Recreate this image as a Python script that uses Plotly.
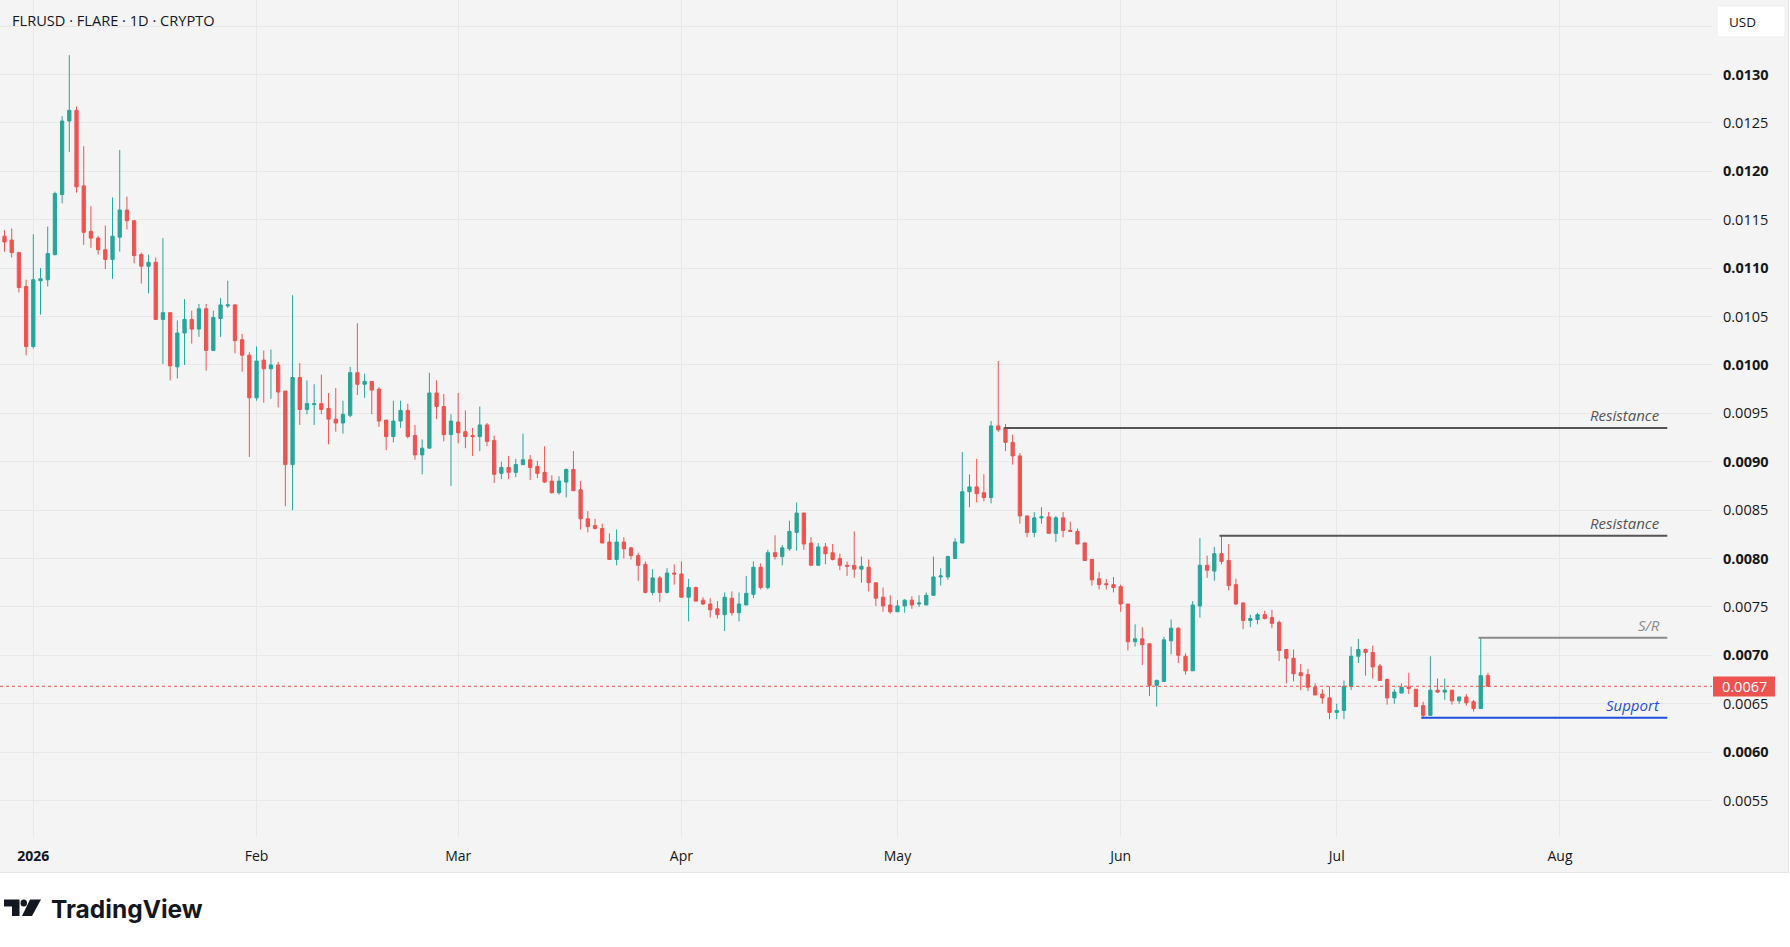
import plotly.graph_objects as go
import pandas as pd

# ---------------- data ----------------
start_date = "2025-12-28"

opens = [
    0.01133, 0.01129, 0.01116, 0.01081,
    0.01019, 0.01087, 0.01088, 0.01114, 0.01176, 0.01252, 0.01263, 0.01185, 0.01138, 0.01131,
    0.01119, 0.01109, 0.01132, 0.01160, 0.01149, 0.01114, 0.01102, 0.01106, 0.01047, 0.01054,
    0.00998, 0.01033, 0.01047, 0.01037, 0.01058, 0.01015, 0.01048, 0.01061, 0.01062, 0.01026, 0.01010,
    0.00966, 0.01005, 0.00996, 0.01000, 0.00973, 0.00897, 0.00987, 0.00954, 0.00959, 0.00960,
    0.00955, 0.00944, 0.00940, 0.00948, 0.00992, 0.00980, 0.00983, 0.00975, 0.00943, 0.00926,
    0.00942, 0.00953, 0.00927, 0.00907, 0.00914, 0.00971, 0.00957, 0.00928,
    0.00941, 0.00931, 0.00927, 0.00926, 0.00938, 0.00922, 0.00888, 0.00894, 0.00889, 0.00897,
    0.00902, 0.00895, 0.00889, 0.00880, 0.00868, 0.00879, 0.00892, 0.00871, 0.00841, 0.00834,
    0.00831, 0.00817, 0.00799, 0.00817, 0.00811, 0.00803, 0.00794, 0.00765, 0.00780, 0.00765, 0.00785,
    0.00784, 0.00760, 0.00770, 0.00757, 0.00753, 0.00748, 0.00742, 0.00759, 0.00744, 0.00752,
    0.00763, 0.00791, 0.00770, 0.00806, 0.00802, 0.00810, 0.00827, 0.00847, 0.00816, 0.00793,
    0.00812, 0.00806, 0.00800, 0.00793, 0.00793, 0.00789, 0.00791, 0.00775, 0.00760, 0.00752,
    0.00745, 0.00751, 0.00757, 0.00753, 0.00752, 0.00762, 0.00781, 0.00781, 0.00800, 0.00816,
    0.00869, 0.00874, 0.00868, 0.00863, 0.00937, 0.00935, 0.00920, 0.00906, 0.00844, 0.00827,
    0.00842, 0.00843, 0.00826, 0.00842, 0.00829, 0.00828, 0.00816, 0.00799, 0.00779, 0.00774, 0.00773,
    0.00771, 0.00753, 0.00714, 0.00717, 0.00712, 0.00669, 0.00673, 0.00715, 0.00728, 0.00699,
    0.00684, 0.00751, 0.00793, 0.00787, 0.00805, 0.00798, 0.00773, 0.00754, 0.00736, 0.00737,
    0.00742, 0.00739, 0.00734, 0.00706, 0.00697, 0.00682, 0.00680, 0.00667, 0.00660, 0.00656,
    0.00641, 0.00643, 0.00668, 0.00699, 0.00706, 0.00703, 0.00689, 0.00675, 0.00656, 0.00661,
    0.00667, 0.00665, 0.00648, 0.00638, 0.00664, 0.00662, 0.00664, 0.00653, 0.00657, 0.00652,
    0.00645, 0.00679,
]

highs = [
    0.01139, 0.01141, 0.01117, 0.01088,
    0.01135, 0.01100, 0.01143, 0.01179, 0.01257, 0.01320, 0.01267, 0.01226, 0.01164, 0.01133,
    0.01144, 0.01173, 0.01222, 0.01174, 0.01149, 0.01116, 0.01114, 0.01111, 0.01131, 0.01054,
    0.01046, 0.01068, 0.01056, 0.01063, 0.01063, 0.01056, 0.01069, 0.01087, 0.01063, 0.01032, 0.01013,
    0.01019, 0.01015, 0.01016, 0.01003, 0.00973, 0.01072, 0.01002, 0.00984, 0.00980, 0.00990,
    0.00971, 0.00976, 0.00963, 0.00998, 0.01043, 0.00991, 0.00983, 0.00977, 0.00943, 0.00963,
    0.00963, 0.00960, 0.00938, 0.00923, 0.00992, 0.00984, 0.00970, 0.00949,
    0.00971, 0.00953, 0.00935, 0.00957, 0.00940, 0.00927, 0.00900, 0.00906, 0.00903, 0.00929,
    0.00907, 0.00901, 0.00916, 0.00886, 0.00885, 0.00893, 0.00911, 0.00880, 0.00849, 0.00841,
    0.00836, 0.00826, 0.00830, 0.00822, 0.00812, 0.00806, 0.00797, 0.00789, 0.00782, 0.00790, 0.00794,
    0.00797, 0.00779, 0.00771, 0.00760, 0.00759, 0.00756, 0.00765, 0.00766, 0.00765, 0.00782,
    0.00797, 0.00795, 0.00809, 0.00824, 0.00814, 0.00839, 0.00858, 0.00847, 0.00822, 0.00816,
    0.00816, 0.00815, 0.00805, 0.00797, 0.00828, 0.00802, 0.00799, 0.00775, 0.00770, 0.00762,
    0.00757, 0.00758, 0.00761, 0.00762, 0.00765, 0.00802, 0.00790, 0.00803, 0.00821, 0.00910,
    0.00887, 0.00903, 0.00887, 0.00942, 0.01004, 0.00939, 0.00928, 0.00909, 0.00844, 0.00848,
    0.00853, 0.00848, 0.00844, 0.00848, 0.00838, 0.00831, 0.00817, 0.00799, 0.00786, 0.00779, 0.00781,
    0.00773, 0.00753, 0.00732, 0.00729, 0.00712, 0.00675, 0.00719, 0.00737, 0.00729, 0.00702,
    0.00756, 0.00821, 0.00803, 0.00812, 0.00824, 0.00815, 0.00779, 0.00755, 0.00742, 0.00744,
    0.00746, 0.00747, 0.00736, 0.00706, 0.00706, 0.00691, 0.00686, 0.00671, 0.00665, 0.00668,
    0.00650, 0.00674, 0.00709, 0.00717, 0.00707, 0.00710, 0.00691, 0.00676, 0.00665, 0.00671,
    0.00682, 0.00665, 0.00652, 0.00699, 0.00676, 0.00676, 0.00664, 0.00657, 0.00660, 0.00654,
    0.00718, 0.00682,
]

lows = [
    0.01117, 0.01111, 0.01075, 0.01010,
    0.01017, 0.01052, 0.01081, 0.01113, 0.01167, 0.01220, 0.01178, 0.01124, 0.01121, 0.01114,
    0.01099, 0.01089, 0.01117, 0.01140, 0.01105, 0.01084, 0.01074, 0.01047, 0.01001, 0.00984,
    0.00986, 0.01000, 0.01022, 0.01029, 0.00994, 0.01015, 0.01029, 0.01059, 0.01012, 0.00993, 0.00905,
    0.00963, 0.00961, 0.00965, 0.00956, 0.00854, 0.00850, 0.00938, 0.00949, 0.00938, 0.00949,
    0.00918, 0.00931, 0.00929, 0.00946, 0.00969, 0.00966, 0.00949, 0.00936, 0.00912, 0.00920,
    0.00935, 0.00924, 0.00902, 0.00887, 0.00914, 0.00944, 0.00921, 0.00875,
    0.00919, 0.00914, 0.00906, 0.00911, 0.00916, 0.00878, 0.00882, 0.00882, 0.00884, 0.00897,
    0.00881, 0.00883, 0.00878, 0.00867, 0.00866, 0.00863, 0.00870, 0.00830, 0.00827, 0.00830,
    0.00816, 0.00799, 0.00793, 0.00800, 0.00799, 0.00777, 0.00764, 0.00762, 0.00755, 0.00764, 0.00773,
    0.00760, 0.00735, 0.00756, 0.00752, 0.00739, 0.00738, 0.00725, 0.00741, 0.00735, 0.00752,
    0.00759, 0.00768, 0.00768, 0.00799, 0.00793, 0.00808, 0.00808, 0.00809, 0.00793, 0.00793,
    0.00794, 0.00798, 0.00788, 0.00782, 0.00780, 0.00775, 0.00766, 0.00751, 0.00745, 0.00743,
    0.00745, 0.00744, 0.00748, 0.00750, 0.00752, 0.00762, 0.00772, 0.00778, 0.00800, 0.00816,
    0.00853, 0.00858, 0.00859, 0.00857, 0.00931, 0.00911, 0.00897, 0.00836, 0.00822, 0.00822,
    0.00836, 0.00826, 0.00817, 0.00822, 0.00828, 0.00815, 0.00798, 0.00772, 0.00768, 0.00768, 0.00765,
    0.00745, 0.00705, 0.00709, 0.00690, 0.00658, 0.00647, 0.00673, 0.00701, 0.00692, 0.00680,
    0.00684, 0.00739, 0.00780, 0.00777, 0.00794, 0.00767, 0.00752, 0.00727, 0.00729, 0.00732,
    0.00737, 0.00728, 0.00694, 0.00671, 0.00673, 0.00664, 0.00663, 0.00659, 0.00650, 0.00634,
    0.00634, 0.00634, 0.00664, 0.00692, 0.00679, 0.00676, 0.00674, 0.00649, 0.00650, 0.00661,
    0.00660, 0.00647, 0.00635, 0.00638, 0.00661, 0.00654, 0.00649, 0.00650, 0.00648, 0.00642,
    0.00645, 0.00668,
]

closes = [
    0.01127, 0.01116, 0.01080, 0.01019,
    0.01088, 0.01089, 0.01115, 0.01177, 0.01252, 0.01263, 0.01184, 0.01137, 0.01131, 0.01119,
    0.01109, 0.01133, 0.01160, 0.01149, 0.01113, 0.01102, 0.01106, 0.01047, 0.01054, 0.00999,
    0.01033, 0.01047, 0.01037, 0.01058, 0.01015, 0.01049, 0.01062, 0.01062, 0.01025, 0.01010, 0.00966,
    0.01004, 0.00996, 0.01000, 0.00972, 0.00897, 0.00987, 0.00954, 0.00960, 0.00960, 0.00954,
    0.00944, 0.00940, 0.00949, 0.00992, 0.00980, 0.00983, 0.00974, 0.00942, 0.00926, 0.00942,
    0.00953, 0.00926, 0.00907, 0.00914, 0.00971, 0.00957, 0.00928, 0.00942,
    0.00930, 0.00926, 0.00926, 0.00938, 0.00921, 0.00887, 0.00894, 0.00889, 0.00897, 0.00902,
    0.00894, 0.00888, 0.00879, 0.00868, 0.00880, 0.00892, 0.00870, 0.00841, 0.00833, 0.00831,
    0.00816, 0.00799, 0.00817, 0.00810, 0.00803, 0.00793, 0.00765, 0.00780, 0.00765, 0.00785, 0.00784,
    0.00760, 0.00770, 0.00756, 0.00753, 0.00747, 0.00742, 0.00760, 0.00744, 0.00753, 0.00764,
    0.00791, 0.00770, 0.00806, 0.00802, 0.00811, 0.00828, 0.00847, 0.00815, 0.00793, 0.00812,
    0.00805, 0.00799, 0.00793, 0.00792, 0.00789, 0.00792, 0.00775, 0.00759, 0.00751, 0.00745,
    0.00751, 0.00757, 0.00752, 0.00754, 0.00762, 0.00781, 0.00782, 0.00802, 0.00817, 0.00869,
    0.00874, 0.00867, 0.00863, 0.00937, 0.00933, 0.00920, 0.00906, 0.00844, 0.00827, 0.00842,
    0.00843, 0.00826, 0.00842, 0.00829, 0.00828, 0.00815, 0.00798, 0.00778, 0.00773, 0.00773, 0.00770,
    0.00753, 0.00714, 0.00717, 0.00711, 0.00669, 0.00674, 0.00716, 0.00728, 0.00700, 0.00684,
    0.00752, 0.00793, 0.00788, 0.00805, 0.00797, 0.00772, 0.00753, 0.00736, 0.00738, 0.00742,
    0.00738, 0.00733, 0.00705, 0.00697, 0.00681, 0.00679, 0.00667, 0.00659, 0.00656, 0.00641,
    0.00643, 0.00668, 0.00699, 0.00706, 0.00703, 0.00688, 0.00674, 0.00656, 0.00662, 0.00667,
    0.00666, 0.00647, 0.00638, 0.00664, 0.00662, 0.00664, 0.00653, 0.00657, 0.00651, 0.00645,
    0.00679, 0.00668,
]

dates = pd.date_range(start_date, periods=len(closes), freq="D")

# drawn horizontal levels: (label, price, start, end)
level_labels = ["Resistance", "Resistance", "S/R", "Support"]
level_prices = [0.009348, 0.008236, 0.007182, 0.006355]
level_starts = ["2026-05-15 19:40", "2026-06-14 17:15", "2026-07-20 16:35", "2026-07-12 17:45"]
level_end = "2026-08-15 21:40"
level_colors = ["#555555", "#555555", "#8a8a8a", "#1f4fd6"]

x_tick_vals = ["2026-01-01", "2026-02-01", "2026-03-01", "2026-04-01",
               "2026-05-01", "2026-06-01", "2026-07-01", "2026-08-01"]
x_tick_text = ["<b>2026</b>", "Feb", "Mar", "Apr", "May", "Jun", "Jul", "Aug"]

y_tick_vals = [0.0055, 0.0060, 0.0065, 0.0070, 0.0075, 0.0080, 0.0085, 0.0090,
               0.0095, 0.0100, 0.0105, 0.0110, 0.0115, 0.0120, 0.0125, 0.0130, 0.0135]
y_tick_text = ["0.0055", "<b>0.0060</b>", "0.0065", "<b>0.0070</b>", "0.0075",
               "<b>0.0080</b>", "0.0085", "<b>0.0090</b>", "0.0095", "<b>0.0100</b>",
               "0.0105", "<b>0.0110</b>", "0.0115", "<b>0.0120</b>", "0.0125",
               "<b>0.0130</b>", ""]

# ---------------- figure ----------------
W, H = 1790, 947
ML, MR, MT, MB = 0, 78, 0, 110
PW, PH = W - ML - MR, H - MT - MB
FONT = "Open Sans"
TXT = "#131722"
UP, DOWN = "#26a69a", "#ef5350"


def px(x):
    return (x - ML) / PW


def py(y):
    return (PH + MT - y) / PH


fig = go.Figure()
fig.add_trace(go.Candlestick(
    x=dates, open=opens, high=highs, low=lows, close=closes,
    increasing=dict(line=dict(color=UP, width=1), fillcolor=UP),
    decreasing=dict(line=dict(color=DOWN, width=1), fillcolor=DOWN),
    whiskerwidth=0, showlegend=False, hoverinfo="skip",
))

shapes = []
annotations = []

# panel background incl. axis areas
shapes.append(dict(type="rect", xref="paper", yref="paper", x0=px(0), x1=px(1788),
                   y0=py(872), y1=py(0), fillcolor="#f4f4f4", line=dict(width=0), layer="below"))
shapes.append(dict(type="line", xref="paper", yref="paper", x0=px(1788.5), x1=px(1788.5),
                   y0=py(872), y1=py(0), line=dict(color="#e4e4e4", width=1)))
shapes.append(dict(type="line", xref="paper", yref="paper", x0=px(0), x1=px(1789),
                   y0=py(872.5), y1=py(872.5), line=dict(color="#e4e4e4", width=1)))

# level lines + labels
for lab, p, s, c in zip(level_labels, level_prices, level_starts, level_colors):
    shapes.append(dict(type="line", xref="x", yref="y", x0=s, x1=level_end, y0=p, y1=p,
                       line=dict(color=c, width=2)))
    annotations.append(dict(xref="x", yref="y", x=level_end, y=p, xanchor="right",
                            yanchor="bottom", xshift=-5, yshift=1, showarrow=False,
                            text=f"<i>{lab}</i>", font=dict(family=FONT, size=15, color=c)))

# last price dotted line and tag
last = closes[-1]
shapes.append(dict(type="line", xref="paper", yref="y", x0=0, x1=1, y0=last, y1=last,
                   line=dict(color=DOWN, width=1, dash="dot")))
shapes.append(dict(type="rect", xref="paper", yref="y", x0=px(1713), x1=px(1775),
                   y0=last - 0.000105, y1=last + 0.000100, fillcolor=DOWN,
                   line=dict(width=0), layer="above"))
annotations.append(dict(xref="paper", yref="y", x=px(1744), y=last, xanchor="center",
                        yanchor="middle", showarrow=False, text=f"{last:.4f}",
                        font=dict(family=FONT, size=14.5, color="white")))

# header
annotations.append(dict(xref="paper", yref="paper", x=px(10), y=py(20.5), xanchor="left",
                        yanchor="middle", showarrow=False,
                        text="FLRUSD · FLARE · 1D · CRYPTO",
                        font=dict(family=FONT, size=14.6, color=TXT)))

# USD box
shapes.append(dict(type="rect", xref="paper", yref="paper", x0=px(1717), x1=px(1785),
                   y0=py(37), y1=py(6), fillcolor="white",
                   line=dict(color="#eceef2", width=1), layer="above"))
annotations.append(dict(xref="paper", yref="paper", x=px(1727), y=py(22), xanchor="left",
                        yanchor="middle", showarrow=False, text="USD",
                        font=dict(family=FONT, size=13.5, color=TXT)))

# TradingView logo
LOGO = "#131722"
shapes.append(dict(type="path", xref="paper", yref="paper", fillcolor=LOGO, line=dict(width=0),
                   path=(f"M {px(4)},{py(899.5)} L {px(19.5)},{py(899.5)} L {px(19.5)},{py(916)} "
                         f"L {px(12)},{py(916)} L {px(12)},{py(906.5)} L {px(4)},{py(906.5)} Z")))
shapes.append(dict(type="circle", xref="paper", yref="paper", fillcolor=LOGO, line=dict(width=0),
                   x0=px(20.5), x1=px(27), y0=py(906.5), y1=py(899.5)))
shapes.append(dict(type="path", xref="paper", yref="paper", fillcolor=LOGO, line=dict(width=0),
                   path=(f"M {px(30)},{py(899.5)} L {px(41)},{py(899.5)} L {px(32)},{py(916)} "
                         f"L {px(22)},{py(916)} Z")))
annotations.append(dict(xref="paper", yref="paper", x=px(49), y=py(909), xanchor="left",
                        yanchor="middle", showarrow=False, text="<b>TradingView</b>",
                        font=dict(family="Inter", size=24.5, color=LOGO)))

fig.update_layout(
    width=W, height=H,
    margin=dict(l=ML, r=MR, t=MT, b=MB, pad=0),
    paper_bgcolor="white", plot_bgcolor="#f4f4f4",
    boxgap=0.35,
    showlegend=False,
    shapes=shapes, annotations=annotations,
    xaxis=dict(
        type="date", range=["2025-12-27 09:00", "2026-08-22 02:40"],
        rangeslider=dict(visible=False),
        tickmode="array", tickvals=x_tick_vals, ticktext=x_tick_text,
        showgrid=True, gridcolor="#e8e8e8", gridwidth=1,
        zeroline=False, showline=False, ticks="",
        tickfont=dict(family=FONT, size=14, color=TXT), ticklabelstandoff=9,
        fixedrange=True,
    ),
    yaxis=dict(
        side="right", range=[0.005123, 0.013770],
        tickmode="array", tickvals=y_tick_vals, ticktext=y_tick_text,
        showgrid=True, gridcolor="#e8e8e8", gridwidth=1,
        zeroline=False, showline=False, ticks="",
        tickfont=dict(family=FONT, size=14.5, color=TXT), ticklabelstandoff=10,
        fixedrange=True,
    ),
)

fig.write_html("out.html")
